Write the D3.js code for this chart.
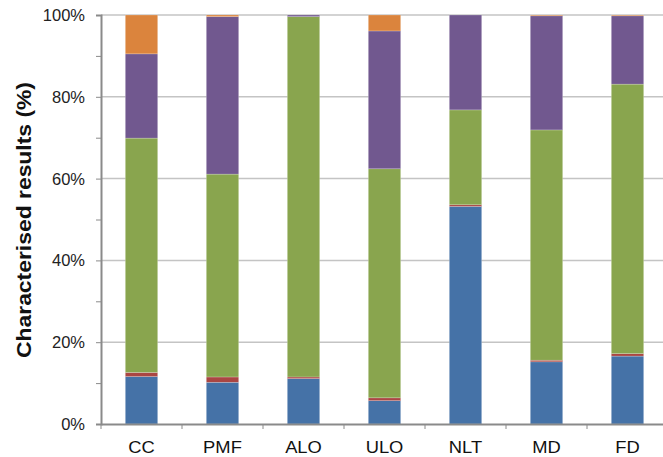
<!DOCTYPE html>
<html>
<head>
<meta charset="utf-8">
<script src="https://d3js.org/d3.v7.min.js"></script>
<style>
	body { margin: 0; background: white; }
	svg { display: block; font-family: "Liberation Sans", Arial, sans-serif; }
</style>
</head>
<body>
<svg id="chart" width="663" height="457"></svg>
<script>
var categories = ["CC", "PMF", "ALO", "ULO", "NLT", "MD", "FD"]
var seriesNames = ["s1", "s2", "s3", "s4", "s5"]
var s1 = [11.6, 10.2, 11.1, 5.7, 53.2, 15.2, 16.6]
var s2 = [1.0, 1.3, 0.4, 0.7, 0.4, 0.4, 0.6]
var s3 = [57.3, 49.6, 88.1, 56.0, 23.2, 56.3, 65.9]
var s4 = [20.6, 38.5, 0.4, 33.7, 23.2, 27.9, 16.7]
var s5 = [9.5, 0.4, 0, 3.9, 0, 0.2, 0.2]
var yTicks = [0, 20, 40, 60, 80, 100]
var colors = ["#4572A7", "#AA4643", "#89A54E", "#71588F", "#DB843D"]

var seriesValues = [s1, s2, s3, s4, s5]
var rows = categories.map((c, i) => {
	var r = { cat: c }
	seriesNames.forEach((s, j) => r[s] = seriesValues[j][i])
	return r
})

var margin = { left: 101, top: 15 }
var width = 567, height = 409
var svg = d3.select("#chart")
var g = svg.append("g").attr("transform", "translate(" + margin.left + "," + margin.top + ")")

var x = d3.scaleBand().domain(categories).range([0, width]).paddingInner(0.6).paddingOuter(0.3)
var xb = d3.scaleBand().domain(categories).range([0, width])
var y = d3.scaleLinear().domain([0, 100]).range([height, 0])

// gridlines
g.selectAll(".grid").data(yTicks.filter(t => t > 0)).enter().append("line")
	.attr("x1", 0).attr("x2", width)
	.attr("y1", d => y(d)).attr("y2", d => y(d))
	.attr("stroke", "#c4c4c4").attr("stroke-width", 1.5)

var stack = d3.stack().keys(seriesNames)(rows)

g.selectAll(".layer").data(stack).enter().append("g")
	.attr("fill", (d, i) => colors[i])
	.selectAll("rect").data(d => d).enter().append("rect")
	.attr("x", d => x(d.data.cat))
	.attr("width", x.bandwidth())
	.attr("y", d => y(d[1]))
	.attr("height", d => y(d[0]) - y(d[1]))
	.attr("stroke", "rgba(255,255,255,0.35)").attr("stroke-width", 0.6)

// y axis
var yAxis = g.append("g").call(d3.axisLeft(y).tickValues(d3.range(0, 101, 10)).tickSize(5).tickFormat(""))
yAxis.select(".domain").attr("stroke", "#8a8a8a").attr("stroke-width", 2)
yAxis.selectAll(".tick line").attr("stroke", "#8a8a8a").attr("stroke-width", 1)

g.selectAll(".ylab").data(yTicks).enter().append("text")
	.attr("x", -16).attr("y", d => y(d)).attr("dy", "0.36em")
	.attr("text-anchor", "end").attr("font-size", 16.5).attr("fill", "#222")
	.text(d => d + "%")

// x axis
var xAxis = g.append("g").attr("transform", "translate(0," + height + ")")
	.call(d3.axisBottom(xb).tickSize(0).tickFormat(""))
xAxis.select(".domain").attr("stroke", "#8a8a8a").attr("stroke-width", 2)
xAxis.selectAll(".tick").remove()
xAxis.selectAll(".sep").data(d3.range(0, categories.length + 1)).enter().append("line")
	.attr("x1", d => d * xb.step()).attr("x2", d => d * xb.step())
	.attr("y1", 0).attr("y2", 5)
	.attr("stroke", "#8a8a8a").attr("stroke-width", 1)

g.selectAll(".xlab").data(categories).enter().append("text")
	.attr("transform", d => "translate(" + (xb(d) + xb.bandwidth() / 2) + "," + (height + 29) + ") scale(1.08,1)")
	.attr("text-anchor", "middle").attr("font-size", 17).attr("fill", "#111")
	.text(d => d)

svg.append("text")
	.attr("transform", "translate(31,220) rotate(-90)")
	.attr("text-anchor", "middle").attr("font-size", 21).attr("font-weight", "bold").attr("fill", "#111")
	.attr("textLength", 276).attr("lengthAdjust", "spacingAndGlyphs")
	.text("Characterised results (%)")
</script>
</body>
</html>
